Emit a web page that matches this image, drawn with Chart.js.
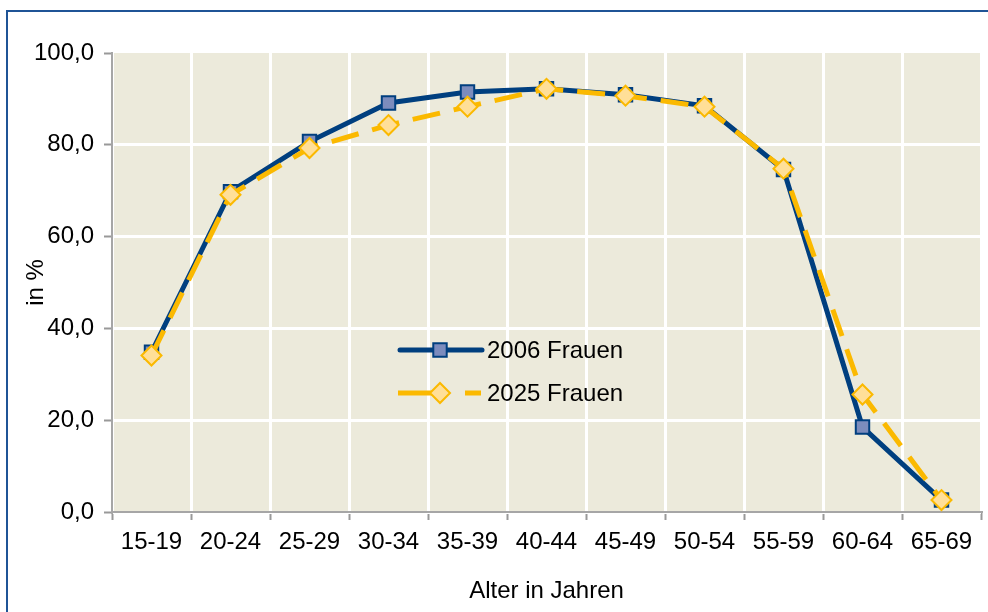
<!DOCTYPE html>
<html>
<head>
<meta charset="utf-8">
<script src="https://cdn.jsdelivr.net/npm/chart.js@4"></script>
<style>
  html, body { margin: 0; padding: 0; background: #fff; }
  #wrap { width: 988px; height: 612px; }
</style>
</head>
<body>
<div id="wrap"><canvas id="myChart" width="988" height="612"></canvas></div>
<script>
var ageGroups = ['15-19', '20-24', '25-29', '30-34', '35-39', '40-44', '45-49', '50-54', '55-59', '60-64', '65-69'];
var women2006 = [34.8, 69.8, 80.7, 89.1, 91.5, 92.2, 90.9, 88.5, 74.6, 18.5, 2.6];
var women2025 = [34.1, 69.1, 79.3, 84.3, 88.3, 92.2, 90.7, 88.3, 74.8, 25.6, 2.6];
var seriesNames = ['2006 Frauen', '2025 Frauen'];

var blue = '#003F7F';
var yellow = '#FBB900';
var font = 'Liberation Sans, Arial, sans-serif';
var fontSize = 24;

// plot background + outer frame
var framePlugin = {
    id: 'frame',
    beforeDraw: function (chart) {
        var c = chart.ctx, a = chart.chartArea;
        c.save();
        c.fillStyle = '#ECEADB';
        c.fillRect(a.left, a.top, a.right - a.left, a.bottom - a.top);
        c.strokeStyle = '#1F5496';
        c.lineWidth = 2;
        c.strokeRect(7, 11, 1100, 800);
        c.restore();
    }
};

// legend sitting inside the plot
var legendPlugin = {
    id: 'innerLegend',
    afterDatasetsDraw: function (chart) {
        var c = chart.ctx;
        var ds = chart.data.datasets;
        var x0 = 400, xm = 440, x1 = 482, tx = 487;
        var rows = [350, 393];
        c.save();
        c.strokeStyle = blue; c.lineWidth = 5; c.lineCap = 'round';
        c.beginPath(); c.moveTo(x0, rows[0]); c.lineTo(x1, rows[0]); c.stroke();
        c.strokeStyle = yellow; c.lineWidth = 5; c.lineCap = 'butt';
        c.beginPath(); c.moveTo(x0 - 2, rows[1]); c.lineTo(xm, rows[1]); c.stroke();
        c.beginPath(); c.moveTo(465, rows[1]); c.lineTo(481, rows[1]); c.stroke();

        c.fillStyle = '#7C8CBD'; c.strokeStyle = blue; c.lineWidth = 2;
        Chart.helpers.drawPoint(c, {pointStyle: 'rect', radius: 9.5, borderWidth: 2, rotation: 0}, xm, rows[0]);
        c.fillStyle = '#FFDF98'; c.strokeStyle = yellow;
        Chart.helpers.drawPoint(c, {pointStyle: 'rectRot', radius: 10, borderWidth: 2, rotation: 0}, xm, rows[1]);
        c.fillStyle = '#000';
        c.font = fontSize + 'px ' + font;
        c.textBaseline = 'middle';
        c.fillText(ds[0].label, tx, rows[0] + 1);
        c.fillText(ds[1].label, tx, rows[1] + 1);
        c.restore();
    }
};

var ctx = document.getElementById('myChart').getContext('2d');
var myChart = new Chart(ctx, {
    type: 'line',
    data: {
        labels: ageGroups,
        datasets: [{
            label: seriesNames[0],
            data: women2006,
            borderColor: blue,
            borderWidth: 5,
            pointStyle: 'rect',
            pointRadius: 9.5,
            pointBorderWidth: 2,
            pointBorderColor: blue,
            pointBackgroundColor: '#7C8CBD',
            tension: 0,
            order: 2
        }, {
            label: seriesNames[1],
            data: women2025,
            borderColor: yellow,
            borderWidth: 5,
            borderDash: [28, 14],
            pointStyle: 'rectRot',
            pointRadius: 10,
            pointBorderWidth: 2,
            pointBorderColor: yellow,
            pointBackgroundColor: '#FFDF98',
            tension: 0,
            order: 1
        }]
    },
    options: {
        responsive: false,
        animation: false,
        layout: {
            autoPadding: false,
            padding: {left: 0, top: 53, right: 7, bottom: 0}
        },
        plugins: {
            legend: {display: false},
            tooltip: {enabled: false}
        },
        scales: {
            x: {
                offset: true,
                grid: {
                    offset: true,
                    color: '#FFFFFF',
                    lineWidth: 3,
                    tickColor: '#999999',
                    tickLength: 8,
                    tickWidth: 2
                },
                border: {color: '#A6A6A6', width: 2},
                ticks: {
                    color: '#000',
                    font: {family: font, size: fontSize},
                    padding: 8,
                    maxRotation: 0
                },
                title: {
                    display: true,
                    text: 'Alter in Jahren',
                    color: '#000',
                    font: {family: font, size: fontSize},
                    padding: {top: 4, bottom: 6}
                },
                afterFit: function (s) {
                    s.height = 100;
                    s.paddingLeft = 0;
                    s.paddingRight = 0;
                }
            },
            y: {
                min: 0,
                max: 100,
                ticks: {
                    stepSize: 20,
                    color: '#000',
                    font: {family: font, size: fontSize},
                    padding: 10,
                    callback: function (v) { return v.toFixed(1).replace('.', ','); }
                },
                grid: {
                    color: function (c) { return c.tick.value === 100 ? 'rgba(0,0,0,0)' : '#FFFFFF'; },
                    lineWidth: 3,
                    tickColor: '#999999',
                    tickLength: 8,
                    tickWidth: 2
                },
                border: {color: '#A6A6A6', width: 2},
                title: {
                    display: true,
                    text: 'in %',
                    color: '#000',
                    font: {family: font, size: fontSize},
                    padding: {top: 22, bottom: 0}
                },
                afterFit: function (s) {
                    s.width = 112;
                    s.paddingTop = 0;
                    s.paddingBottom = 0;
                }
            }
        }
    },
    plugins: [framePlugin, legendPlugin]
});
</script>
</body>
</html>
